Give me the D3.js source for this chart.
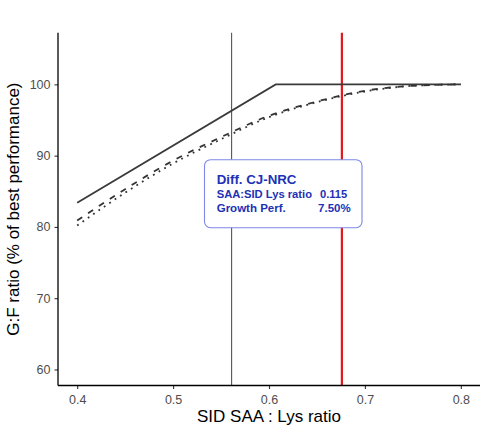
<!DOCTYPE html>
<html><head><meta charset="utf-8">
<script src="https://cdn.jsdelivr.net/npm/d3@7"></script>
<style>body{margin:0;background:#fff}svg{display:block}</style>
</head><body>
<svg id="c" width="489" height="434"></svg>
<script>
// Data
const xTicks = [0.4, 0.5, 0.6, 0.7, 0.8];
const yTicks = [60, 70, 80, 90, 100];
const linearX = [0.4, 0.607, 0.8];
const linearY = [83.4, 100, 100];
const curveX = [0.40, 0.45, 0.50, 0.55, 0.60, 0.65, 0.70, 0.75, 0.80];
const dashedY = [80.9, 85.3, 89.3, 92.6, 95.6, 97.6, 99.1, 99.8, 100];
const dottedY = [80.2, 84.8, 88.9, 92.3, 95.4, 97.5, 99.0, 99.8, 100];
const vLines = [0.561, 0.676];
const boxLines = [["Diff. CJ-NRC", ""], ["SAA:SID Lys ratio", "0.115"], ["Growth Perf.", "7.50%"]];

const svg = d3.select("#c");
const L = 58, R = 480, T = 32.7, B = 385.5;
const x = d3.scaleLinear().domain([0.38, 0.82]).range([L, R]);
const y = d3.scaleLinear().domain([57.75, 107.25]).range([B, T]);
const font = "'Liberation Sans', Arial, Helvetica, sans-serif";

// vertical lines
svg.append("line").attr("x1", x(vLines[0])).attr("x2", x(vLines[0])).attr("y1", T).attr("y2", B)
  .attr("stroke", "#555").attr("stroke-width", 1.1);
svg.append("line").attr("x1", x(vLines[1])).attr("x2", x(vLines[1])).attr("y1", T).attr("y2", B)
  .attr("stroke", "#e0191b").attr("stroke-width", 2.2);

const line = d3.line().x(d => x(d[0])).y(d => y(d[1]));
const lineC = d3.line().x(d => x(d[0])).y(d => y(d[1])).curve(d3.curveMonotoneX);

svg.append("path").attr("d", line(linearX.map((v, i) => [v, linearY[i]])))
  .attr("fill", "none").attr("stroke", "#3a3a3a").attr("stroke-width", 1.8);
svg.append("path").attr("d", lineC(curveX.map((v, i) => [v, dashedY[i]])))
  .attr("fill", "none").attr("stroke", "#333").attr("stroke-width", 1.8).attr("stroke-dasharray", "6,7");
svg.append("path").attr("d", lineC(curveX.map((v, i) => [v, dottedY[i]])))
  .attr("fill", "none").attr("stroke", "#333").attr("stroke-width", 1.8).attr("stroke-dasharray", "1.8,4.7");

// axes
const xa = svg.append("g").attr("transform", `translate(0,${B})`)
  .call(d3.axisBottom(x).tickValues(xTicks).tickSize(3.5).tickPadding(6).tickFormat(d3.format(".1f")));
const ya = svg.append("g").attr("transform", `translate(${L},0)`)
  .call(d3.axisLeft(y).tickValues(yTicks).tickSize(3.5).tickPadding(4));
[xa, ya].forEach(g => {
  g.select(".domain").remove();
  g.selectAll(".tick line").attr("stroke", "#333").attr("stroke-width", 1.1);
  g.selectAll(".tick text").attr("fill", "#4d4d4d").style("font-family", font).style("font-size", "12.5px");
});
svg.append("line").attr("x1", L).attr("x2", R).attr("y1", B).attr("y2", B).attr("stroke", "#000").attr("stroke-width", 1.3);
svg.append("line").attr("x1", L).attr("x2", L).attr("y1", T).attr("y2", B).attr("stroke", "#000").attr("stroke-width", 1.3);

// titles
svg.append("text").attr("x", (L + R) / 2).attr("y", 422).attr("text-anchor", "middle")
  .style("font-family", font).style("font-size", "17px").attr("fill", "#000").text("SID SAA : Lys ratio");
svg.append("text").attr("transform", `translate(19,${(T + B) / 2}) rotate(-90)`).attr("text-anchor", "middle")
  .style("font-family", font).style("font-size", "17px").attr("fill", "#000").text("G:F ratio (% of best performance)");

// annotation box
svg.append("rect").attr("x", 204.5).attr("y", 159.7).attr("width", 157.5).attr("height", 68).attr("rx", 6)
  .attr("fill", "#fff").attr("stroke", "#7f88e6").attr("stroke-width", 1.1);
const bl = [184, 198.2, 212.4];
const sizes = [13.3, 11.2, 11.5];
const valX = [0, 347.3, 350.7];
boxLines.forEach((row, i) => {
  svg.append("text").attr("x", 216.7).attr("y", bl[i]).attr("fill", "#2131b5")
    .style("font-family", font).style("font-weight", 700).style("font-size", sizes[i] + "px").text(row[0]);
  if (row[1]) svg.append("text").attr("x", valX[i]).attr("y", bl[i]).attr("fill", "#2131b5").attr("text-anchor", "end")
    .style("font-family", font).style("font-weight", 700).style("font-size", sizes[i] + "px").text(row[1]);
});
</script>
</body></html>
